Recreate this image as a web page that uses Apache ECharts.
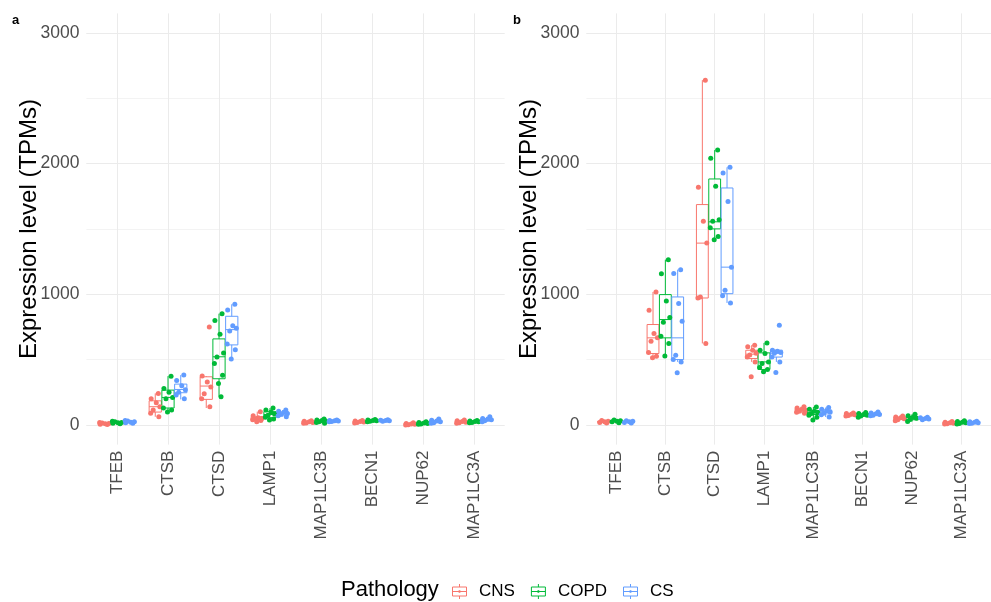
<!DOCTYPE html>
<html>
<head>
<meta charset="utf-8">
<script src="https://cdn.jsdelivr.net/npm/echarts@6/dist/echarts.min.js"></script>
<style>
  html, body { margin: 0; padding: 0; background: #fff; }
  #main { width: 991px; height: 602px; }
</style>
</head>
<body>
<div id="main"></div>
<script>
var GENES = ['TFEB', 'CTSB', 'CTSD', 'LAMP1', 'MAP1LC3B', 'BECN1', 'NUP62', 'MAP1LC3A'];
var GROUPS = ['CNS', 'COPD', 'CS'];
var COLORS = ['#F8766D', '#00BA38', '#619CFF'];
var Y_TICKS = [0, 1000, 2000, 3000];

// box stats per gene: [min, q1, median, q3, max]
var boxA_CNS = [[2, 6, 10, 14, 20], [63, 99, 140, 185, 242], [130, 196, 298, 369, 375], [25, 40, 50, 63, 102],
  [13, 18, 24, 30, 33], [15, 20, 25, 30, 35], [0, 4, 8, 12, 18], [13, 20, 25, 32, 38]];
var boxA_COPD = [[10, 14, 18, 22, 28], [99, 130, 211, 267, 374], [216, 354, 522, 659, 852], [38, 56, 80, 102, 130],
  [13, 22, 30, 36, 45], [25, 30, 33, 37, 42], [5, 10, 15, 20, 25], [18, 22, 25, 30, 35]];
var boxA_CS = [[14, 18, 22, 28, 34], [196, 247, 272, 313, 382], [506, 613, 730, 832, 924], [63, 75, 88, 100, 115],
  [25, 28, 32, 35, 38], [28, 31, 34, 37, 40], [13, 20, 28, 35, 45], [25, 32, 40, 48, 63]];

var boxB_CNS = [[15, 20, 25, 30, 35], [514, 547, 667, 769, 1018], [624, 972, 1392, 1687, 2639], [483, 509, 542, 572, 611],
  [90, 100, 110, 125, 140], [69, 75, 80, 88, 92], [33, 42, 52, 60, 69], [8, 12, 18, 22, 27]];
var boxB_COPD = [[18, 24, 28, 32, 38], [529, 667, 807, 998, 1265], [1418, 1501, 1555, 1883, 2104], [407, 425, 483, 552, 628],
  [38, 80, 95, 110, 138], [60, 70, 76, 85, 95], [27, 40, 55, 65, 83], [8, 14, 20, 26, 33]];
var boxB_CS = [[15, 20, 24, 28, 32], [483, 501, 667, 980, 1189], [934, 1005, 1208, 1814, 1972], [483, 520, 549, 573, 573],
  [61, 85, 100, 115, 134], [70, 78, 85, 92, 100], [40, 45, 50, 55, 59], [12, 16, 20, 24, 28]];

// individual samples per gene
var ptsA_CNS = [[3, 6, 9, 12, 15, 20], [242, 200, 170, 140, 115, 90, 63], [750, 375, 330, 290, 240, 200, 140],
  [102, 70, 55, 50, 45, 40, 35, 25], [33, 28, 24, 20, 16, 13], [35, 30, 26, 23, 20, 15], [18, 12, 8, 5, 2, 0],
  [38, 32, 27, 22, 17, 13]];
var ptsA_COPD = [[10, 14, 17, 20, 24, 28], [374, 280, 250, 211, 200, 130, 115, 99], [852, 800, 695, 551, 520, 471, 380, 318, 216],
  [130, 115, 100, 85, 75, 60, 45, 38], [45, 38, 34, 30, 25, 20, 13], [42, 38, 35, 32, 28, 25], [25, 20, 16, 12, 8, 5],
  [35, 30, 27, 24, 20, 18]];
var ptsA_CS = [[14, 18, 21, 25, 30, 34], [382, 340, 300, 270, 250, 230, 200], [924, 880, 760, 740, 720, 620, 575, 506],
  [115, 105, 95, 88, 80, 70, 63], [38, 35, 33, 30, 27, 25], [40, 37, 35, 32, 29], [45, 36, 30, 25, 18, 13],
  [63, 50, 44, 40, 33, 25]];

var ptsB_CNS = [[15, 20, 24, 28, 35], [1018, 878, 700, 667, 640, 555, 527, 514], [2639, 1819, 1560, 1392, 980, 972, 624],
  [611, 598, 572, 550, 535, 520, 483, 369], [140, 130, 120, 112, 105, 98, 90], [92, 88, 82, 78, 72, 69],
  [69, 62, 55, 48, 40, 33], [27, 22, 18, 14, 10, 8]];
var ptsB_COPD = [[18, 24, 28, 32, 38], [1265, 1158, 949, 822, 786, 679, 624, 529], [2104, 2041, 1827, 1570, 1560, 1510, 1443, 1418],
  [628, 573, 547, 483, 470, 440, 425, 407], [138, 120, 105, 95, 88, 75, 60, 38], [95, 88, 80, 74, 68, 60],
  [83, 70, 60, 52, 42, 27], [33, 27, 22, 17, 12, 8]];
var ptsB_CS = [[15, 20, 24, 28, 32], [1189, 1160, 929, 794, 534, 501, 483, 399], [1972, 1929, 1710, 1208, 1031, 990, 934],
  [763, 573, 565, 555, 549, 520, 483, 402], [134, 120, 110, 100, 90, 78, 61], [100, 92, 86, 80, 75, 70],
  [59, 55, 50, 45, 40], [28, 24, 21, 18, 14, 12]];

var BOXES = [[boxA_CNS, boxA_COPD, boxA_CS], [boxB_CNS, boxB_COPD, boxB_CS]];
var POINTS = [[ptsA_CNS, ptsA_COPD, ptsA_CS], [ptsB_CNS, ptsB_COPD, ptsB_CS]];

// fixed spread of points inside each dodged box (fraction of a category)
var SPREAD = [0.06, -0.08, 0.02, 0.09, -0.04, -0.09, 0.07, -0.01, 0.04];
var DODGE = [-0.25, 0, 0.25];

var FONT = '"Liberation Sans", Arial, sans-serif';
var PANEL_LEFT = [86.4, 586.4];
var PANEL_TAG = ['a', 'b'];
var GRID_TOP = 13.4, GRID_H = 431.2, GRID_W = 418.2;

function boxRenderer(off) {
  return function (params, api) {
    var x = api.value(0) + off;
    var w = api.size([0.24, 0])[0];
    var pMin = api.coord([x, api.value(1)]);
    var pQ1 = api.coord([x, api.value(2)]);
    var pMed = api.coord([x, api.value(3)]);
    var pQ3 = api.coord([x, api.value(4)]);
    var pMax = api.coord([x, api.value(5)]);
    var st = { stroke: api.visual('color'), fill: 'none', lineWidth: 1 };
    return {
      type: 'group',
      children: [
        { type: 'line', shape: { x1: pQ3[0], y1: pQ3[1], x2: pMax[0], y2: pMax[1] }, style: st },
        { type: 'line', shape: { x1: pMin[0], y1: pMin[1], x2: pQ1[0], y2: pQ1[1] }, style: st },
        { type: 'rect', shape: { x: pQ3[0] - w / 2, y: pQ3[1], width: w, height: pQ1[1] - pQ3[1] }, style: st },
        { type: 'line', shape: { x1: pMed[0] - w / 2, y1: pMed[1], x2: pMed[0] + w / 2, y2: pMed[1] }, style: st }
      ]
    };
  };
}

var grids = [], xAxes = [], yAxes = [], series = [], graphics = [];

for (var p = 0; p < 2; p++) {
  grids.push({ left: PANEL_LEFT[p], top: GRID_TOP, width: GRID_W, height: GRID_H });
  xAxes.push({
    type: 'value', gridIndex: p, min: -0.6, max: 7.6, minInterval: 1, maxInterval: 1,
    axisLine: { show: false }, axisTick: { show: false },
    splitLine: { show: true, showMinLine: false, showMaxLine: false, lineStyle: { color: '#ebebeb', width: 1 } },
    axisLabel: {
      rotate: 90, margin: 6, fontSize: 17, color: '#4d4d4d', fontFamily: FONT,
      showMinLabel: false, showMaxLabel: false,
      formatter: function (v) {
        var i = Math.round(v);
        return (Math.abs(v - i) < 1e-6 && i >= 0 && i < GENES.length) ? GENES[i] : '';
      }
    }
  });
  // minor lines every 500, with labels
  yAxes.push({
    type: 'value', gridIndex: p, min: -150, max: 3150, minInterval: 500, maxInterval: 500,
    name: 'Expression level (TPMs)', nameLocation: 'middle', nameGap: 45, nameMoveOverlap: false,
    nameTextStyle: { fontSize: 24, color: '#000', fontFamily: FONT },
    axisLine: { show: false }, axisTick: { show: false },
    splitLine: { show: true, showMinLine: false, showMaxLine: false, lineStyle: { color: '#f3f3f3', width: 1 } },
    axisLabel: {
      margin: 7, fontSize: 17.5, color: '#4d4d4d', fontFamily: FONT,
      formatter: function (v) { return Y_TICKS.indexOf(v) >= 0 ? String(v) : ''; }
    }
  });
  // major lines every 1000
  yAxes.push({
    type: 'value', gridIndex: p, position: 'left', min: -150, max: 3150, minInterval: 1000, maxInterval: 1000,
    axisLine: { show: false }, axisTick: { show: false }, axisLabel: { show: false },
    splitLine: { show: true, showMinLine: false, showMaxLine: false, lineStyle: { color: '#ebebeb', width: 1 } }
  });

  for (var g = 0; g < 3; g++) {
    var boxData = BOXES[p][g].map(function (b, i) { return [i].concat(b); });
    series.push({
      type: 'custom', name: GROUPS[g], xAxisIndex: p, yAxisIndex: p * 2,
      dimensions: ['x', 'min', 'q1', 'med', 'q3', 'max'],
      encode: { x: 0, y: [1, 2, 3, 4, 5] },
      itemStyle: { color: COLORS[g] },
      renderItem: boxRenderer(DODGE[g]),
      data: boxData, z: 2
    });
    var pts = [];
    POINTS[p][g].forEach(function (vals, i) {
      vals.forEach(function (v, k) {
        pts.push([i + DODGE[g] + SPREAD[k % SPREAD.length], v]);
      });
    });
    series.push({
      type: 'scatter', name: GROUPS[g], xAxisIndex: p, yAxisIndex: p * 2,
      symbolSize: 5, itemStyle: { color: COLORS[g], opacity: 1 },
      data: pts, z: 3
    });
  }

  graphics.push({
    type: 'text', left: p === 0 ? 12 : 513, top: 14,
    style: { text: PANEL_TAG[p], fontSize: 13, fontWeight: 'bold', fill: '#000', fontFamily: FONT }
  });
}

graphics.push({
  type: 'text', left: 341, top: 579,
  style: { text: 'Pathology', fontSize: 22, fill: '#000', fontFamily: FONT }
});

var ICON = 'path://M0,3H14V12H0Z M7,0V3 M7,12V15 M0,7.5H14 M6,7.5a1,1 0 1,0 2,0a1,1 0 1,0 -2,0';

var chart = echarts.init(document.getElementById('main'));
chart.setOption({
  animation: false,
  color: COLORS,
  grid: grids,
  xAxis: xAxes,
  yAxis: yAxes,
  graphic: graphics,
  legend: {
    left: 452, top: 583, padding: 0, itemWidth: 15, itemHeight: 15, itemGap: 16,
    textStyle: { fontSize: 17, color: '#000', fontFamily: FONT, padding: [0, 0, 0, 7] },
    data: GROUPS.map(function (n, i) {
      return { name: n, icon: ICON, itemStyle: { color: 'rgba(0,0,0,0)', borderColor: COLORS[i], borderWidth: 1 } };
    })
  },
  series: series
});
</script>
</body>
</html>
